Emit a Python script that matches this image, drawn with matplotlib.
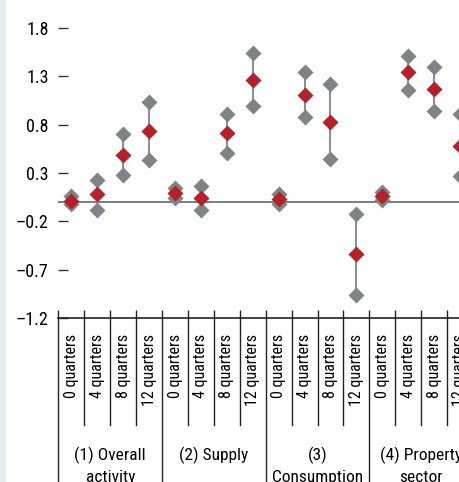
import matplotlib
matplotlib.use("Agg")
import matplotlib.pyplot as plt
import numpy as np

# data
groups = ["(1) Overall\nactivity", "(2) Supply", "(3)\nConsumption", "(4) Property\nsector", "(5) Other"]
horizons = ["0 quarters", "4 quarters", "8 quarters", "12 quarters"]
point_est = [0.01, 0.08, 0.49, 0.73,
             0.09, 0.04, 0.71, 1.26,
             0.03, 1.11, 0.83, -0.54,
             0.06, 1.34, 1.17, 0.58]
upper = [0.065, 0.23, 0.70, 1.03,
         0.145, 0.17, 0.91, 1.54,
         0.08, 1.35, 1.22, -0.12,
         0.10, 1.51, 1.40, 0.91]
lower = [-0.025, -0.08, 0.275, 0.43,
         0.04, -0.08, 0.51, 0.99,
         -0.02, 0.88, 0.445, -0.96,
         0.02, 1.16, 0.94, 0.265]
yticks = [-1.2, -0.7, -0.2, 0.3, 0.8, 1.3, 1.8]

plt.rcParams['font.family'] = ['Liberation Sans Narrow', 'Roboto Condensed', 'DejaVu Sans']

grey = '#808285'
red = '#b3212b'

fig = plt.figure(figsize=(4.59, 4.82), dpi=100)
# thin pale strip on the left edge
fig.patches.append(plt.Rectangle((0, 0), 4.5 / 459, 1, transform=fig.transFigure,
                                 color='#e3eff0', zorder=0))

n = len(point_est)
x = np.arange(n)
ax = fig.add_axes([58.5 / 459, 164 / 482, 20 * 25.9 / 459, 290 / 482])

ax.vlines(x, lower, upper, color='#8e8e8e', lw=1.5, zorder=2)
ax.plot(x, upper, 'D', ms=8.5, color=grey, mec='none', zorder=3)
ax.plot(x, lower, 'D', ms=8.5, color=grey, mec='none', zorder=3)
ax.plot(x, point_est, 'D', ms=8.5, color=red, mec='none', zorder=4)
ax.axhline(0, color='#5a5a5a', lw=1.1, zorder=1)

ax.set_xlim(-0.5, 19.5)
ax.set_ylim(-1.2, 1.8)
ax.set_yticks(yticks)
ax.set_yticklabels([f"{t:.1f}".replace('-', '\u2013') for t in yticks], fontsize=13)
ax.tick_params(axis='y', direction='in', length=7, width=1, color='#333333', pad=7, left=True)
for s in ['top', 'right', 'left']:
    ax.spines[s].set_visible(False)
ax.spines['bottom'].set_color('#222222')
ax.spines['bottom'].set_linewidth(1.2)

# boundaries between columns
bounds = np.arange(n + 5) - 0.5
ax.set_xticks(bounds)
ax.set_xticklabels([])
ax.tick_params(axis='x', direction='in', length=6, width=1, color='#222222')

trans = ax.get_xaxis_transform()
ax_h = 290.0
for b in bounds:
    if int(b + 0.5) % 4 == 0:
        y0 = -170 / ax_h
    else:
        y0 = -107 / ax_h
    ax.plot([b, b], [0, y0], color='#222222', lw=1, transform=trans, clip_on=False)

for i in range(n + 4):
    ax.text(i, -16 / ax_h, horizons[i % 4], rotation=90, ha='center', va='top',
            fontsize=11.5, transform=trans, clip_on=False)

for g, label in enumerate(groups):
    ax.text(4 * g + 1.5, -129 / ax_h, label, ha='center', va='top', fontsize=12.5,
            linespacing=1.45, transform=trans, clip_on=False)

fig.savefig('out.png', dpi=100)
